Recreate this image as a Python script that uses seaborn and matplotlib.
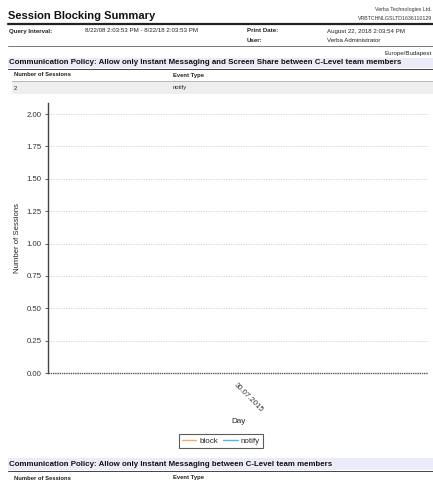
import matplotlib
matplotlib.use("Agg")
import matplotlib.pyplot as plt
import seaborn as sns
import pandas as pd
from matplotlib.patches import Rectangle
from matplotlib.lines import Line2D

# ---- data ----
days = ["30.07.2015", "30.07.2015"]
event_types = ["block", "notify"]
sessions = [0, 2]
y_ticks = [0.0, 0.25, 0.5, 0.75, 1.0, 1.25, 1.5, 1.75, 2.0]
palette = {"block": "#f6a96c", "notify": "#5ab4d8"}

df = pd.DataFrame({"Day": days, "Event Type": event_types, "Number of Sessions": sessions})

sns.set_theme(style="white")
plt.rcParams["font.family"] = ["Liberation Sans", "DejaVu Sans"]

W, H = 433, 480
fig = plt.figure(figsize=(W / 100, H / 100), dpi=100)

def fx(x):
    return x / W

def fy(y):
    return 1 - y / H

def txt(x, y, s, size=4.6, weight="normal", ha="left", color="#222222"):
    fig.text(fx(x), fy(y), s, fontsize=size, fontweight=weight, ha=ha, va="center", color=color)

def hline(y, x0, x1, lw=0.6, color="#555555"):
    fig.add_artist(Line2D([fx(x0), fx(x1)], [fy(y), fy(y)], transform=fig.transFigure, lw=lw, color=color))

def rect(x0, y0, x1, y1, color):
    fig.add_artist(Rectangle((fx(x0), fy(y1)), fx(x1) - fx(x0), fy(y0) - fy(y1),
                             transform=fig.transFigure, color=color, lw=0, zorder=0))

# ---- header ----
txt(8, 16, "Session Blocking Summary", size=8, weight="bold", color="#111111")
txt(432, 10, "Verba Technologies Ltd.", size=3.8, ha="right", color="#333333")
txt(432, 18, "VRBTCHNLGSLTD1636110129", size=3.8, ha="right", color="#333333")
hline(23.5, 8, 433, lw=1.6, color="#222222")
txt(9, 31, "Query Interval:", size=4.4, weight="bold")
txt(85, 31, "8/22/08 2:03:53 PM - 8/22/18 2:03:53 PM", size=4.4)
txt(247, 31, "Print Date:", size=4.4, weight="bold")
txt(327, 31, "August 22, 2018 2:03:54 PM", size=4.4)
txt(247, 41, "User:", size=4.4, weight="bold")
txt(327, 41, "Verba Administrator", size=4.4)
hline(45.5, 8, 433, lw=0.7, color="#777777")
txt(432, 53, "Europe/Budapest", size=4.4, ha="right")

# ---- first section ----
rect(8, 57.5, 433, 68, "#ececf8")
txt(9, 62.5, "Communication Policy: Allow only Instant Messaging and Screen Share between C-Level team members",
    size=5.7, weight="bold", color="#111111")
hline(68.5, 8, 433, lw=0.7, color="#444444")
txt(14, 75, "Number of Sessions", size=4.2, weight="bold")
txt(173, 75, "Event Type", size=4.2, weight="bold")
hline(80.5, 12, 433, lw=0.5, color="#999999")
rect(12, 82, 433, 94, "#eeeeee")
txt(14, 88, "2", size=4.2)
txt(173, 88, "notify", size=4.2)

# ---- chart ----
ax = fig.add_axes([fx(48), fy(373), fx(428) - fx(48), fy(103) - fy(373)])
sns.lineplot(data=df, x="Day", y="Number of Sessions", hue="Event Type",
             hue_order=["block", "notify"], palette=palette, ax=ax, lw=1)
ax.set_xlim(-0.99, 1)
ax.set_ylim(0, 2.085)
ax.set_yticks(y_ticks)
ax.set_yticklabels([f"{v:.2f}" for v in y_ticks], fontsize=5.6, color="#333333")
ax.yaxis.grid(True, linestyle=(0, (1.5, 1.5)), color="#cccccc", lw=0.6)
ax.xaxis.grid(False)
ax.axhline(0, color="#555555", lw=1.0, linestyle=(0, (1.0, 0.6)), clip_on=False, zorder=5)
for s in ["top", "right", "bottom"]:
    ax.spines[s].set_visible(False)
ax.spines["left"].set_color("#444444")
ax.spines["left"].set_linewidth(1.0)
ax.tick_params(axis="y", left=True, length=2.5, width=0.6, color="#444444", pad=2)
ax.tick_params(axis="x", bottom=False, pad=0)
for lab in ax.get_xticklabels():
    lab.set_rotation(-45)
    lab.set_ha("left")
    lab.set_rotation_mode("anchor")
    lab.set_fontsize(5.6)
    lab.set_color("#333333")
ax.set_xlabel("Day", fontsize=5.8, color="#222222", labelpad=3)
ax.set_ylabel("Number of Sessions", fontsize=5.6, color="#222222", labelpad=4)

leg = ax.legend(loc="center", bbox_to_anchor=((221 - 48) / 380, (373 - 441) / 270),
                ncol=2, fontsize=5.8, frameon=True, handlelength=1.8, handletextpad=0.4,
                columnspacing=0.6, borderpad=0.4, fancybox=False, title=None)
leg.get_frame().set_edgecolor("#333333")
leg.get_frame().set_linewidth(0.8)

# ---- second section ----
rect(8, 458, 433, 470, "#ececf8")
txt(9, 464, "Communication Policy: Allow only Instant Messaging between C-Level team members",
    size=5.7, weight="bold", color="#111111")
hline(470.5, 8, 433, lw=0.7, color="#444444")
txt(14, 478, "Number of Sessions", size=4.2, weight="bold")
txt(173, 478, "Event Type", size=4.2, weight="bold")

fig.savefig("out.png", dpi=100)
